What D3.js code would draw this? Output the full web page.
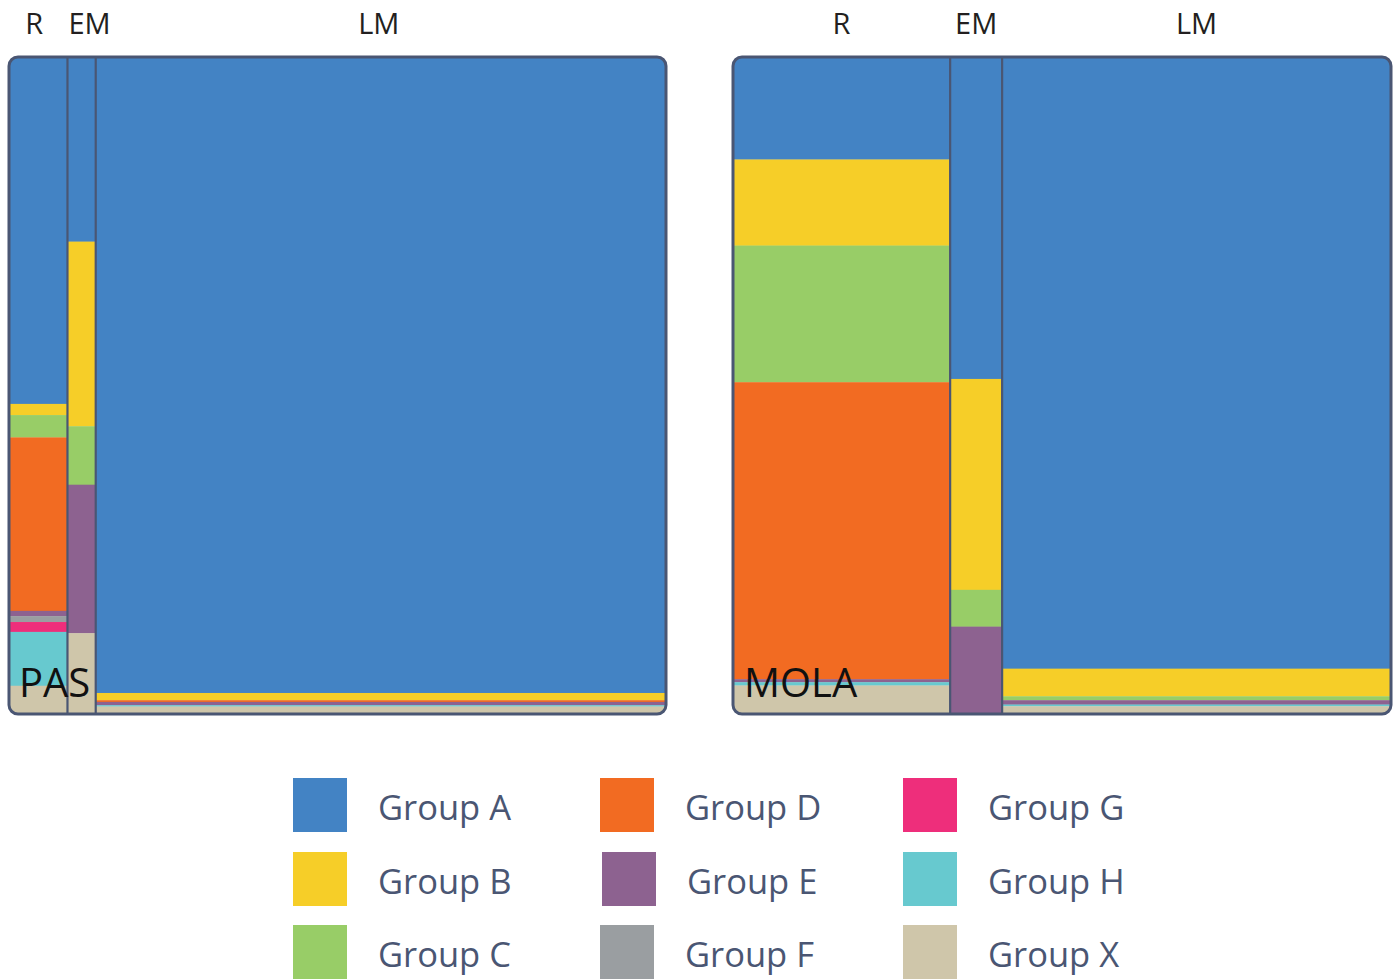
<!DOCTYPE html>
<html>
<head>
<meta charset="utf-8">
<script src="https://cdn.jsdelivr.net/npm/d3@7"></script>
<style>
  html, body { margin: 0; padding: 0; background: #ffffff; }
  svg { display: block; }
</style>
</head>
<body>
<svg id="chart" width="1400" height="980"></svg>
<script>
// ---------- DATA ----------
const groups = ["Group A", "Group B", "Group C", "Group D", "Group E", "Group F", "Group G", "Group H", "Group X"];
const groupKeys = ["A", "B", "C", "D", "E", "F", "G", "H", "X"];
const groupColors = ["#4383c4", "#f6ce28", "#98cd67", "#f26b22", "#8d6290", "#9a9ea1", "#ee2e7b", "#67c9cf", "#cfc6aa"];

const columns = ["R", "EM", "LM"];

// column widths (share of panel, %)
const pasWidths = [8.9, 4.3, 86.8];
const molaWidths = [33.0, 7.9, 59.1];

// composition per column (%), order A,B,C,D,E,F,G,H,X
const pasR  = [52.8, 1.7, 3.4, 26.4, 0.8, 0.9, 1.5, 8.2, 4.3];
const pasEM = [28.1, 28.1, 8.9, 0, 22.6, 0, 0, 0, 12.3];
const pasLM = [96.8, 1.1, 0, 0.26, 0.5, 0, 0, 0.2, 1.14];

const molaR  = [15.6, 13.1, 20.8, 45.2, 0.46, 0, 0, 0.5, 4.34];
const molaEM = [49.0, 32.1, 5.6, 0, 13.3, 0, 0, 0, 0];
const molaLM = [93.1, 4.2, 0.6, 0, 0.66, 0, 0, 0.26, 1.18];

const panelNames = ["PAS", "MOLA"];

// ---------- LAYOUT ----------
const svg = d3.select("#chart");
const frameColor = "#4a5673";

const panels = [
  { name: panelNames[0], widths: pasWidths, data: [pasR, pasEM, pasLM], x0: 9, x1: 666 },
  { name: panelNames[1], widths: molaWidths, data: [molaR, molaEM, molaLM], x0: 733, x1: 1391 }
];
const plotTop = 57, plotBottom = 714;

panels.forEach((p, pi) => {
  const total = d3.sum(p.widths);
  const x = d3.scaleLinear().domain([0, total]).range([p.x0, p.x1]);
  const y = d3.scaleLinear().domain([0, 100]).range([plotTop, plotBottom]);
  const starts = Array.from(d3.cumsum([0].concat(p.widths.slice(0, -1))));

  const clipId = "clip" + pi;
  svg.append("clipPath").attr("id", clipId)
    .append("rect")
    .attr("x", p.x0).attr("y", plotTop)
    .attr("width", p.x1 - p.x0).attr("height", plotBottom - plotTop)
    .attr("rx", 9).attr("ry", 9);

  const g = svg.append("g").attr("clip-path", `url(#${clipId})`);

  p.data.forEach((col, ci) => {
    const sum = d3.sum(col);
    const cum = Array.from(d3.cumsum([0].concat(col.slice(0, -1))));
    const cx0 = x(starts[ci]), cx1 = x(starts[ci] + p.widths[ci]);
    col.forEach((v, gi) => {
      if (v <= 0) return;
      const ya = y(cum[gi] / sum * 100), yb = y((cum[gi] + v) / sum * 100);
      g.append("rect")
        .attr("x", cx0).attr("y", ya)
        .attr("width", cx1 - cx0).attr("height", yb - ya + 0.3)
        .attr("fill", groupColors[gi]);
    });
    // column label
    svg.append("text")
      .attr("x", (cx0 + cx1) / 2 + (pi === 0 && ci === 0 ? -4 : 0) + (pi === 0 && ci === 1 ? 8 : 0) + (pi === 0 && ci === 2 ? -2 : 0))
      .attr("y", 34)
      .attr("text-anchor", "middle")
      .attr("font-family", "'Open Sans', sans-serif")
      .attr("font-size", 29)
      .attr("fill", "#231f20")
      .text(columns[ci]);
  });

  // separators
  starts.slice(1).forEach(s => {
    g.append("line")
      .attr("x1", x(s)).attr("x2", x(s))
      .attr("y1", plotTop).attr("y2", plotBottom)
      .attr("stroke", frameColor).attr("stroke-width", 2.2);
  });

  // panel label
  svg.append("text")
    .attr("x", p.x0 + (pi === 0 ? 10 : 11))
    .attr("y", 697)
    .attr("font-family", "'Open Sans', sans-serif")
    .attr("font-size", 40)
    .attr("fill", "#111")
    .text(p.name);

  // frame
  svg.append("rect")
    .attr("x", p.x0).attr("y", plotTop)
    .attr("width", p.x1 - p.x0).attr("height", plotBottom - plotTop)
    .attr("rx", 9).attr("ry", 9)
    .attr("fill", "none")
    .attr("stroke", frameColor).attr("stroke-width", 3);
});

// ---------- LEGEND ----------
const legendX = [293, 600, 903];
const legendY = [778, 852, 925];
const legend = svg.append("g");
groups.forEach((name, i) => {
  const c = Math.floor(i / 3), r = i % 3;
  const lx = legendX[c] + (i === 4 ? 2 : 0), ly = legendY[r];
  legend.append("rect")
    .attr("x", lx).attr("y", ly)
    .attr("width", 54).attr("height", 54)
    .attr("fill", groupColors[i]);
  legend.append("text")
    .attr("x", lx + 85).attr("y", ly + 30)
    .attr("dy", "0.35em")
    .attr("font-family", "'Open Sans', sans-serif")
    .attr("font-size", 34.5)
    .attr("fill", "#4a5673")
    .text(name);
});
</script>
</body>
</html>
